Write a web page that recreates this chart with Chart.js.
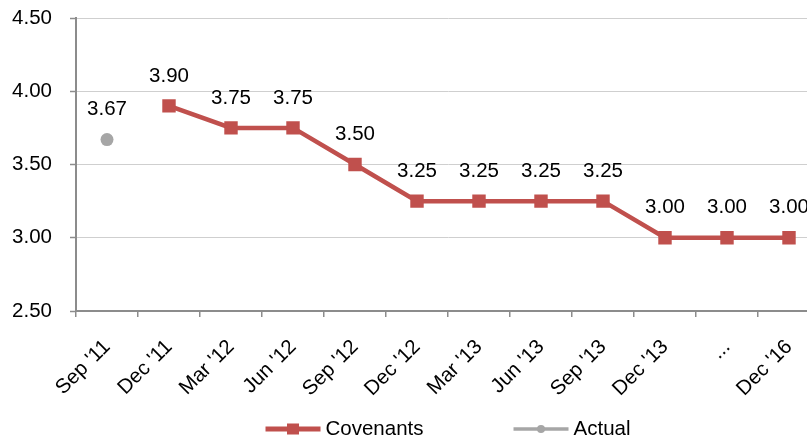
<!DOCTYPE html>
<html>
<head>
<meta charset="utf-8">
<script src="https://cdn.jsdelivr.net/npm/chart.js@4/dist/chart.umd.min.js"></script>
<style>
  html, body { margin: 0; padding: 0; overflow: hidden; background: #fff; }
  #wrap { width: 820px; height: 438px; }
</style>
</head>
<body>
<div id="wrap"><canvas id="c" width="820" height="438"></canvas></div>
<script>
// Quarter labels along the x axis
const categories = ["Sep '11", "Dec '11", "Mar '12", "Jun '12", "Sep '12", "Dec '12",
                    "Mar '13", "Jun '13", "Sep '13", "Dec '13", "...", "Dec '16"];
// Leverage covenant levels per quarter
const covenants = [null, 3.90, 3.75, 3.75, 3.50, 3.25, 3.25, 3.25, 3.25, 3.00, 3.00, 3.00];
// Actual reported level
const actual = [3.67, null, null, null, null, null, null, null, null, null, null, null];
// Y axis range and tick step
const yMin = 2.5, yMax = 4.5, yStep = 0.5;

const RED = '#C0504D';
const GREY = '#A6A6A6';
const AXIS = '#8C8C8C';
const FONT = '"Liberation Sans", Arial, sans-serif';
const FSIZE = 20.5;

Chart.defaults.font.family = FONT;
Chart.defaults.font.size = FSIZE;
Chart.defaults.color = '#000';

// Value labels above every point
const valueLabels = {
  id: 'valueLabels',
  afterDatasetsDraw(chart) {
    const ctx = chart.ctx;
    ctx.save();
    ctx.font = FSIZE + 'px ' + FONT;
    ctx.fillStyle = '#000';
    ctx.textAlign = 'center';
    ctx.textBaseline = 'middle';
    chart.data.datasets.forEach((ds, i) => {
      const meta = chart.getDatasetMeta(i);
      meta.data.forEach((pt, j) => {
        const v = ds.data[j];
        if (v == null) return;
        ctx.fillText(v.toFixed(2), pt.x, pt.y - 30);
      });
    });
    ctx.restore();
  }
};

// Legend with line + marker samples, centred under the plot area
const lineLegend = {
  id: 'lineLegend',
  afterDraw(chart) {
    const ctx = chart.ctx;
    const area = chart.chartArea;
    const y = 429;
    const sampleW = 55, textGap = 5, itemGap = 90;
    ctx.save();
    ctx.font = FSIZE + 'px ' + FONT;
    const items = chart.data.datasets.map(ds => ({
      label: ds.label, color: ds.borderColor, style: ds.pointStyle,
      w: ctx.measureText(ds.label).width
    }));
    let total = 0;
    items.forEach((it, i) => { total += sampleW + textGap + it.w + (i ? itemGap : 0); });
    let x = (area.left + area.right) / 2 - total / 2;
    items.forEach(it => {
      ctx.strokeStyle = it.color;
      ctx.fillStyle = it.color;
      ctx.lineWidth = it.style === 'rect' ? 5 : 3.5;
      ctx.beginPath();
      ctx.moveTo(x, y);
      ctx.lineTo(x + sampleW, y);
      ctx.stroke();
      const cx = x + sampleW / 2;
      if (it.style === 'rect') {
        ctx.fillRect(cx - 6, y - 5.5, 12, 11);
      } else {
        ctx.beginPath();
        ctx.arc(cx, y, 4, 0, Math.PI * 2);
        ctx.fill();
      }
      ctx.fillStyle = '#000';
      ctx.textAlign = 'left';
      ctx.textBaseline = 'middle';
      ctx.fillText(it.label, x + sampleW + textGap, y);
      x += sampleW + textGap + it.w + itemGap;
    });
    ctx.restore();
  }
};

new Chart(document.getElementById('c'), {
  type: 'line',
  data: {
    labels: categories,
    datasets: [
      {
        label: 'Covenants',
        data: covenants,
        borderColor: RED,
        backgroundColor: RED,
        borderWidth: 4.5,
        pointStyle: 'rect',
        pointRadius: 9.5,
        pointBorderWidth: 0,
        pointBackgroundColor: RED,
        tension: 0,
        spanGaps: false
      },
      {
        label: 'Actual',
        data: actual,
        borderColor: GREY,
        backgroundColor: GREY,
        showLine: false,
        pointStyle: 'circle',
        pointRadius: 6.5,
        pointBorderWidth: 0,
        pointBackgroundColor: GREY
      }
    ]
  },
  options: {
    responsive: false,
    animation: false,
    devicePixelRatio: 1,
    layout: { autoPadding: false, padding: { top: 18, left: 0, right: 0, bottom: 0 } },
    plugins: { legend: { display: false }, tooltip: { enabled: false } },
    scales: {
      x: {
        type: 'category',
        offset: true,
        grid: {
          offset: true,
          drawOnChartArea: false,
          drawTicks: true,
          tickLength: 6,
          color: AXIS,
          lineWidth: 1.5
        },
        border: { color: AXIS, width: 2 },
        ticks: {
          minRotation: 45,
          maxRotation: 45,
          padding: 18,
          autoSkip: false,
          color: '#000',
          font: { size: FSIZE }
        },
        afterFit(s) {
          s.height = 127;
          s.paddingLeft = 0;
          s.paddingRight = 0;
        }
      },
      y: {
        min: yMin,
        max: yMax,
        grid: {
          color: '#CFCFCF',
          lineWidth: 1,
          borderDash: [2, 2],
          drawTicks: true,
          tickLength: 6,
          tickColor: AXIS,
          tickBorderDash: [],
          tickWidth: 1.5
        },
        border: { color: AXIS, width: 2 },
        ticks: {
          stepSize: yStep,
          padding: 18,
          color: '#000',
          font: { size: FSIZE },
          callback: v => Number(v).toFixed(2)
        },
        afterFit(s) {
          s.width = 76;
          s.paddingTop = 0;
          s.paddingBottom = 0;
        }
      }
    }
  },
  plugins: [valueLabels, lineLegend]
});
</script>
</body>
</html>
